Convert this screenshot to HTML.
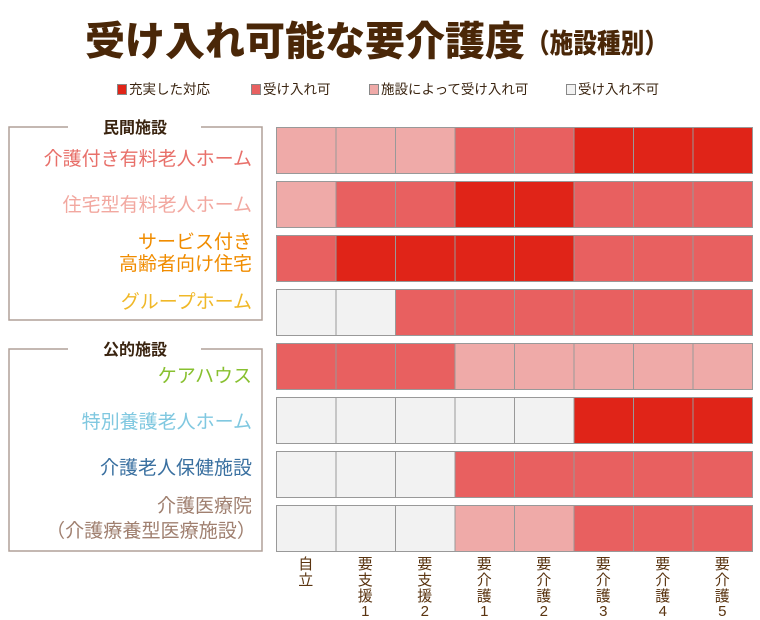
<!DOCTYPE html>
<html><head><meta charset="utf-8"><style>
html,body{margin:0;padding:0;background:#fff}
svg{display:block}
text{font-family:"Liberation Sans","Noto Sans CJK JP",sans-serif}
</style></head><body>
<svg width="760" height="620" viewBox="0 0 760 620" xmlns="http://www.w3.org/2000/svg">
<text x="85" y="55" font-size="40" font-weight="900" fill="#4a2708" textLength="440" lengthAdjust="spacingAndGlyphs">受け入れ可能な要介護度</text>
<text x="526" y="53" font-size="27" font-weight="900" fill="#4a2708" textLength="142" lengthAdjust="spacingAndGlyphs">（施設種別）</text>
<g font-size="13.5" fill="#3a2410">
<rect x="117.5" y="84.5" width="9" height="10" fill="#e02418" stroke="#888"/><text x="129" y="94">充実した対応</text>
<rect x="251.5" y="84.5" width="9" height="10" fill="#e86060" stroke="#888"/><text x="263" y="94">受け入れ可</text>
<rect x="369.5" y="84.5" width="9" height="10" fill="#efaaa8" stroke="#888"/><text x="381" y="94">施設によって受け入れ可</text>
<rect x="566.5" y="84.5" width="9" height="10" fill="#f2f2f2" stroke="#888"/><text x="578" y="94">受け入れ不可</text>
</g>
<g fill="none" stroke="#b0a098" stroke-width="1.5">
<path d="M68 127 H9 V320 H262 V127 H201"/>
<path d="M68 349 H9 V551 H262 V349 H201"/>
</g>
<g font-size="16" fill="#3a2410" font-weight="bold" text-anchor="middle">
<text x="135" y="133">民間施設</text>
<text x="135" y="355">公的施設</text>
</g>
<g font-size="19" text-anchor="end">
<text x="252" y="165" fill="#e8706a">介護付き有料老人ホーム</text>
<text x="252" y="211" fill="#f2a8a0">住宅型有料老人ホーム</text>
<text x="252" y="248" fill="#f08c00">サービス付き</text>
<text x="252" y="270" fill="#f08c00">高齢者向け住宅</text>
<text x="252" y="308" fill="#f0b828">グループホーム</text>
<text x="252" y="382" fill="#88c030">ケアハウス</text>
<text x="252" y="428" fill="#80c8e0">特別養護老人ホーム</text>
<text x="252" y="474" fill="#3a70a0">介護老人保健施設</text>
<text x="252" y="512" fill="#a08070">介護医療院</text>
</g>
<text x="46" y="537" font-size="19" fill="#a08070" textLength="210" lengthAdjust="spacingAndGlyphs">（介護療養型医療施設）</text>
<g id="grid" stroke="#999" stroke-width="1"></g>
<g font-size="15" fill="#5a3410" text-anchor="middle" id="xl"></g>
<script>
var C={D:"#e02418",R:"#e86060",P:"#efaaa8",L:"#f2f2f2"};
var rows=["PPPRRDDD","PRRDDRRR","RDDDDRRR","LLRRRRRR","RRRPPPPP","LLLLLDDD","LLLRRRRR","LLLPPRRR"];
var g=document.getElementById("grid"),ns="http://www.w3.org/2000/svg";
var x0=276,w=(752-276)/8;
rows.forEach(function(r,i){for(var j=0;j<8;j++){var e=document.createElementNS(ns,"rect");
e.setAttribute("x",x0+j*w+0.5);e.setAttribute("y",127+i*54+0.5);e.setAttribute("width",w);e.setAttribute("height",46);
e.setAttribute("fill",C[r[j]]);g.appendChild(e);}});
var labs=[["自","立"],["要","支","援","1"],["要","支","援","2"],["要","介","護","1"],["要","介","護","2"],["要","介","護","3"],["要","介","護","4"],["要","介","護","5"]];
var ys=[569,585,601,616];
var xl=document.getElementById("xl");
labs.forEach(function(l,j){l.forEach(function(c,k){var t=document.createElementNS(ns,"text");
t.setAttribute("x",x0+j*w+w/2);t.setAttribute("y",ys[k]);t.textContent=c;xl.appendChild(t);});});
</script>
</svg>
</body></html>
